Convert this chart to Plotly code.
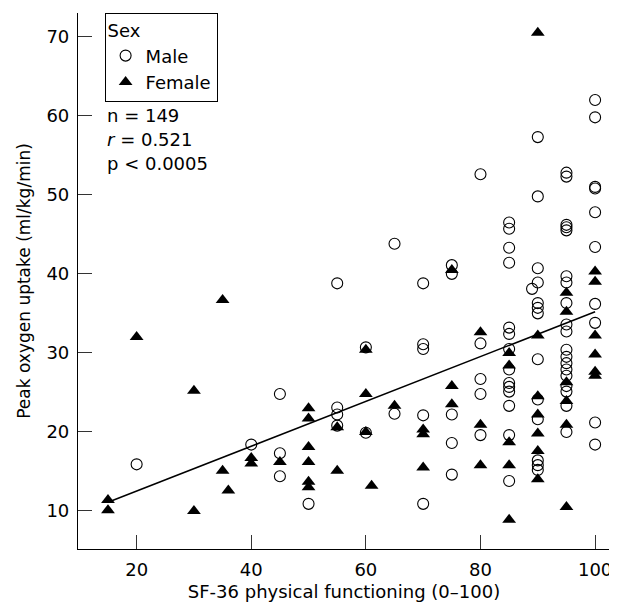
import plotly.graph_objects as go

# Male data (SF-36 physical functioning, peak VO2)
male_x = [20, 40, 45, 45, 45, 50, 55, 55, 55, 55, 60, 60, 65, 65,
          70, 70, 70, 70, 70, 75, 75, 75, 75, 75, 80, 80, 80, 80, 80,
          85, 85, 85, 85, 85, 85, 85, 85, 85, 85, 85, 85, 85, 85,
          89,
          90, 90, 90, 90, 90, 90, 90, 90, 90, 90, 90, 90, 90,
          95, 95, 95, 95, 95, 95, 95, 95, 95, 95, 95, 95, 95, 95, 95, 95, 95, 95, 95,
          100, 100, 100, 100, 100, 100, 100, 100, 100, 100]
male_y = [15.9, 18.4, 24.8, 17.3, 14.4, 10.9, 38.8, 23.1, 22.2, 20.8, 30.7, 19.9, 43.8, 22.3,
          38.8, 31.1, 30.5, 22.1, 10.9, 41.1, 40.0, 22.2, 18.6, 14.6, 52.6, 31.2, 26.7, 24.8, 19.6,
          46.5, 45.7, 43.3, 41.4, 33.2, 32.4, 30.5, 27.9, 26.2, 25.7, 25.1, 23.3, 19.6, 13.8,
          38.1,
          57.3, 49.8, 40.7, 38.9, 36.3, 35.7, 35.0, 29.2, 24.1, 21.6, 16.4, 15.8, 15.2,
          52.8, 52.3, 46.2, 45.9, 45.5, 39.7, 38.9, 36.3, 33.6, 32.7, 30.4, 29.5, 28.7, 27.9, 27.1, 25.8, 25.1, 23.3, 20.0,
          62.0, 59.8, 51.0, 50.8, 47.8, 43.4, 36.2, 33.8, 21.2, 18.4]

# Female data
female_x = [15, 15, 20, 30, 30, 35, 35, 36, 40, 40, 45,
            50, 50, 50, 50, 50, 50, 55, 55, 60, 60, 60, 61, 65,
            70, 70, 70, 75, 75, 75, 80, 80, 80,
            85, 85, 85, 85, 85,
            90, 90, 90, 90, 90, 90, 90,
            95, 95, 95, 95, 95, 95,
            100, 100, 100, 100, 100, 100]
female_y = [11.4, 10.1, 32.0, 25.2, 10.0, 36.7, 15.1, 12.6, 16.7, 16.0, 16.2,
            23.0, 21.7, 18.1, 16.2, 13.7, 13.0, 20.6, 15.1, 30.4, 24.8, 20.0, 13.2, 23.3,
            20.3, 19.7, 15.5, 40.5, 25.8, 23.5, 32.6, 20.9, 15.8,
            30.0, 28.4, 18.7, 15.8, 8.9,
            70.5, 32.2, 24.5, 22.2, 19.8, 17.6, 14.0,
            37.6, 35.2, 26.3, 23.9, 20.9, 10.5,
            40.3, 39.0, 32.2, 29.8, 27.6, 27.1]

# Fitted regression line endpoints
fit_x = [15, 100]
fit_y = [11.1, 35.2]

x_ticks = [20, 40, 60, 80, 100]
y_ticks = [10, 20, 30, 40, 50, 60, 70]

stats_lines = ["n = 149", "<i>r</i> = 0.521", "p < 0.0005"]
stats_y = [60.0, 57.0, 54.0]

FONT = "DejaVu Sans"

fig = go.Figure()
fig.add_trace(go.Scatter(
    x=fit_x, y=fit_y, mode="lines",
    line=dict(color="black", width=1.5),
    showlegend=False, hoverinfo="skip"))
fig.add_trace(go.Scatter(
    x=male_x, y=male_y, mode="markers", name="Male",
    marker=dict(symbol="circle-open", size=11, color="black",
                line=dict(color="black", width=1.1))))
fig.add_trace(go.Scatter(
    x=female_x, y=female_y, mode="markers", name="Female",
    marker=dict(symbol="triangle-up", size=12, color="black",
                line=dict(width=0))))

for t, yy in zip(stats_lines, stats_y):
    fig.add_annotation(
        x=14.4, y=yy, xref="x", yref="y", text=t,
        showarrow=False, xanchor="left", yanchor="middle",
        font=dict(family=FONT, size=18, color="black"))

axis_common = dict(
    showgrid=False, zeroline=False, showline=True,
    linecolor="black", linewidth=1.2,
    ticks="inside", ticklen=14, tickwidth=1.2, tickcolor="#333",
    tickfont=dict(family=FONT, size=18, color="black"),
    ticklabelstandoff=4,
)

fig.update_layout(
    width=609, height=595,
    margin=dict(l=70, r=5, t=5, b=54),
    plot_bgcolor="white", paper_bgcolor="white",
    font=dict(family=FONT, size=18, color="black"),
    xaxis=dict(range=[9.77, 102.6], tickvals=x_ticks,
               title=dict(text="SF-36 physical functioning (0\u2013100)",
                          font=dict(family=FONT, size=18), standoff=6),
               **axis_common),
    yaxis=dict(range=[5.19, 73.0], tickvals=y_ticks,
               title=dict(text="Peak oxygen uptake (ml/kg/min)",
                          font=dict(family=FONT, size=17), standoff=11),
               **axis_common),
    legend=dict(
        title=dict(text="Sex", font=dict(family=FONT, size=18)),
        x=0.05, y=1.0, xanchor="left", yanchor="top",
        bordercolor="black", borderwidth=1, bgcolor="white",
        font=dict(family=FONT, size=18), itemwidth=30,
        tracegroupgap=0),
    showlegend=True,
)

fig.write_html("out.html")
